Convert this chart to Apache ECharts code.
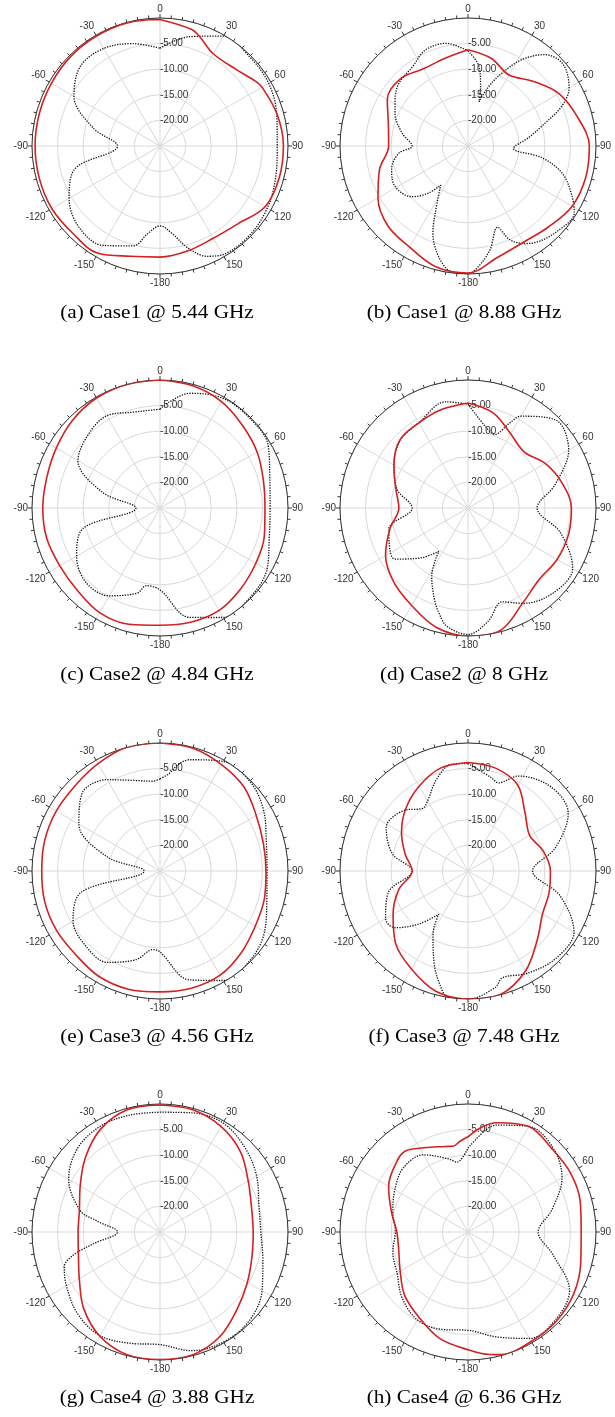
<!DOCTYPE html>
<html>
<head>
<meta charset="utf-8">
<script src="https://cdn.jsdelivr.net/npm/echarts/dist/echarts.min.js"></script>
<style>
  html, body { margin: 0; padding: 0; background: #fff; }
  #chart { width: 615px; height: 1417px; }
</style>
</head>
<body>
<div id="chart"></div>
<script>
// Radiation patterns, normalised gain in dB. Each entry: [angle in degrees, dB].
// Solid red = co-polarisation, dotted black = cross-polarisation.

const captions = [
  '(a) Case1 @ 5.44 GHz', '(b) Case1 @ 8.88 GHz',
  '(c) Case2 @ 4.84 GHz', '(d) Case2 @ 8 GHz',
  '(e) Case3 @ 4.56 GHz', '(f) Case3 @ 7.48 GHz',
  '(g) Case4 @ 3.88 GHz', '(h) Case4 @ 6.36 GHz'
];

const radialMin = -25;
const radialMax = 0;
const radialStep = 5;
const angleStep = 30;

const case1Low_co = [[0,-0.3],[15,-1.4],[20,-2.3],[30,-4.2],[45,-3.9],[55,-2.6],[60,-2.0],[75,-1.3],[90,-0.9],[105,-0.9],[120,-1.3],[135,-3.5],[150,-4.2],[165,-3.8],[180,-3.3],[-165,-2.7],[-150,-0.8],[-135,-0.9],[-120,-0.6],[-105,-0.6],[-90,-0.6],[-75,-0.6],[-60,-0.5],[-45,-0.3],[-30,-0.2],[-15,-0.1]];
const case1Low_x = [[0,-5.9],[15,-2.9],[30,-0.2],[45,-0.3],[60,-0.5],[75,-1.4],[90,-2.1],[105,-1.6],[120,-0.8],[135,-0.3],[150,-0.5],[157,-1.6],[165,-4.5],[172,-7.7],[180,-9.4],[-172,-7.7],[-165,-4.8],[-150,-2.6],[-135,-2.6],[-120,-4.5],[-105,-7.8],[-90,-16.7],[-75,-11.5],[-60,-5.6],[-45,-3.0],[-30,-3.0],[-15,-4.3]];

const case1High_co = [[0,-6.2],[15,-7.3],[30,-9.0],[45,-7.1],[60,-4.5],[75,-2.9],[90,-1.3],[105,-1.2],[120,-1.5],[135,-2.7],[150,-3.3],[165,-2.5],[180,-0.2],[-165,-0.6],[-150,-2.2],[-135,-2.9],[-120,-4.7],[-105,-7.1],[-90,-9.5],[-75,-8.9],[-60,-6.8],[-45,-6.4],[-30,-7.6],[-15,-7.3]];
const case1High_x = [[0,-6.4],[8,-9.4],[12,-13.2],[14,-16.1],[19,-12.8],[25,-9.3],[32,-5.1],[40,-1.7],[49,-0.5],[60,-2.2],[67,-5.1],[75,-10.1],[82,-13.0],[93,-16.1],[99,-10.4],[106,-5.9],[115,-2.7],[122,-0.5],[135,-1.0],[145,-2.0],[150,-3.0],[156,-5.0],[160,-8.1],[168,-4.3],[175,-1.4],[180,-0.1],[-172,-0.3],[-165,-2.7],[-158,-6.7],[-154,-10.4],[-145,-15.7],[-140,-13.0],[-132,-10.2],[-119,-8.7],[-107,-9.4],[-96,-11.4],[-90,-14.1],[-79,-11.9],[-66,-9.4],[-58,-8.2],[-48,-6.8],[-35,-6.1],[-24,-4.5],[-12,-4.5],[-3,-5.9]];

const case2Low_co = [[0,0],[15,-0.3],[30,-1.0],[45,-2.2],[60,-3.1],[75,-4.1],[90,-4.5],[105,-3.9],[120,-3.4],[135,-2.7],[150,-1.9],[165,-1.9],[180,-2.1],[-165,-1.5],[-150,-1.4],[-135,-2.2],[-120,-2.4],[-105,-2.1],[-90,-2.1],[-75,-2.1],[-60,-1.6],[-45,-0.8],[-30,-0.2],[-15,0]];
const case2Low_x = [[0,-5.7],[5,-4.2],[15,-1.8],[30,-0.3],[45,-0.2],[60,-0.6],[75,-2.8],[90,-3.5],[105,-2.9],[120,-0.9],[135,-0.2],[150,-0.3],[165,-2.9],[180,-9.0],[-170,-9.6],[-165,-7.8],[-150,-5.2],[-135,-4.5],[-120,-6.2],[-105,-9.4],[-90,-20.3],[-75,-13.5],[-60,-6.5],[-45,-5.0],[-30,-4.2],[-15,-5.6],[-5,-5.8]];

const case2High_co = [[0,-4.5],[15,-5.8],[30,-8.3],[45,-9.5],[60,-7.6],[75,-6.0],[90,-4.8],[105,-4.7],[120,-4.9],[135,-5.3],[150,-3.6],[165,-0.3],[180,0],[-165,-0.9],[-150,-3.0],[-135,-4.5],[-120,-6.4],[-105,-9.2],[-90,-11.5],[-75,-10.4],[-60,-8.3],[-45,-6.2],[-30,-5.8],[-15,-5.1]];
const case2High_x = [[0,-4.7],[12,-8.7],[20,-9.7],[26,-6.6],[30,-4.3],[45,-0.7],[60,-2.3],[75,-7.4],[90,-11.5],[105,-6.3],[120,-1.4],[135,-1.5],[150,-3.5],[160,-5.5],[170,-2.5],[180,-0.3],[-170,-1.5],[-165,-3.5],[-160,-5.9],[-152,-9.9],[-146,-14.8],[-137,-11.7],[-125,-7.6],[-120,-7.5],[-105,-9.0],[-90,-14.1],[-75,-10.6],[-60,-8.3],[-45,-6.3],[-30,-5.8],[-12,-3.8]];

const case3Low_co = [[0,0],[15,-0.2],[30,-1.0],[45,-1.8],[60,-3.3],[75,-4.1],[90,-4.3],[105,-3.9],[120,-3.5],[135,-2.5],[150,-1.5],[165,-1.3],[180,-1.4],[-165,-1.1],[-150,-1.2],[-135,-1.8],[-120,-1.7],[-105,-1.7],[-90,-1.9],[-75,-1.7],[-60,-1.6],[-45,-1.5],[-30,-0.8],[-15,0]];
const case3Low_x = [[0,-7.0],[5,-6.0],[10,-3.8],[15,-2.5],[30,-0.3],[45,-0.2],[60,-1.6],[75,-3.5],[90,-4.1],[105,-3.4],[120,-1.4],[135,-0.2],[150,-0.3],[165,-3.0],[180,-9.2],[-175,-9.6],[-165,-7.1],[-150,-4.4],[-135,-4.4],[-120,-5.4],[-105,-9.1],[-90,-21.9],[-75,-14.3],[-60,-6.7],[-45,-3.5],[-30,-4.4],[-15,-6.7],[-5,-7.4]];

const case3High_co = [[0,-3.8],[15,-4.2],[30,-5.6],[45,-9.2],[60,-11.1],[75,-9.8],[90,-8.9],[105,-8.6],[120,-8.2],[135,-5.9],[150,-2.5],[165,-0.1],[180,0],[-165,-0.7],[-150,-2.9],[-135,-5.0],[-120,-8.1],[-105,-11.0],[-90,-14.1],[-75,-12.3],[-60,-10.0],[-45,-7.8],[-30,-5.9],[-15,-4.2]];
const case3High_x = [[0,-4.0],[14,-6.2],[19,-6.8],[28,-4.0],[45,-1.9],[60,-2.4],[75,-7.3],[90,-12.4],[105,-6.4],[120,-1.1],[135,-0.8],[150,-1.9],[162,-3.1],[167,-1.6],[180,0],[-171,0],[-166,-2.2],[-160,-5.7],[-151,-10.9],[-146,-14.8],[-137,-10.8],[-128,-7.0],[-120,-6.4],[-105,-8.9],[-90,-14.1],[-77,-9.8],[-62,-6.9],[-46,-7.9],[-36,-9.9],[-30,-9.2],[-19,-6.1],[-9,-3.9]];

const case4Low_co = [[0,-0.2],[15,-0.3],[30,-1.2],[45,-2.8],[60,-5.1],[75,-6.5],[90,-6.8],[105,-6.4],[120,-5.3],[135,-3.7],[150,-1.5],[165,-0.2],[180,-0.1],[-165,-0.2],[-150,-1.5],[-135,-3.9],[-120,-6.8],[-105,-8.5],[-90,-9.0],[-75,-8.7],[-60,-7.0],[-45,-4.4],[-30,-1.8],[-15,-0.3]];
const case4Low_x = [[0,-1.6],[15,-0.9],[30,-0.4],[45,-1.6],[60,-3.2],[75,-5.0],[90,-5.3],[105,-4.2],[120,-2.0],[135,-0.4],[150,-0.2],[165,-1.0],[180,-3.0],[-165,-2.5],[-150,-1.6],[-135,-2.3],[-120,-3.9],[-110,-5.1],[-105,-7.4],[-100,-11.8],[-90,-16.7],[-80,-12.4],[-75,-8.9],[-60,-4.4],[-45,-2.1],[-30,-1.3],[-15,-1.4]];

const case4High_co = [[0,-6.4],[8,-4.2],[15,-2.9],[30,-1.2],[45,-1.9],[60,-1.9],[75,-2.3],[90,-2.9],[105,-2.2],[120,-1.1],[135,-0.5],[150,-0.3],[165,-0.2],[170,-0.7],[180,-2.0],[-165,-3.5],[-150,-5.8],[-135,-7.5],[-120,-9.7],[-105,-11.0],[-90,-11.1],[-75,-9.5],[-60,-7.1],[-45,-5.4],[-38,-5.0],[-30,-6.1],[-15,-7.7],[-10,-8.0],[-5,-7.2]];
const case4High_x = [[0,-8.6],[10,-4.7],[15,-3.4],[30,-1.2],[45,-1.6],[60,-3.8],[75,-8.0],[90,-11.3],[105,-7.8],[120,-2.1],[135,-0.8],[150,-1.0],[165,-3.8],[180,-5.8],[-165,-5.3],[-150,-5.2],[-135,-6.8],[-120,-9.0],[-105,-9.8],[-90,-10.8],[-75,-9.8],[-60,-8.5],[-45,-7.2],[-30,-7.6],[-15,-10.2],[-9,-11.2]];

const coPol = [case1Low_co, case1High_co, case2Low_co, case2High_co, case3Low_co, case3High_co, case4Low_co, case4High_co];
const xPol  = [case1Low_x,  case1High_x,  case2Low_x,  case2High_x,  case3Low_x,  case3High_x,  case4Low_x,  case4High_x];

// panel layout (pixels)
const colX = [160, 468];
const rowY = [146, 508, 871, 1232];
const plotRadius = 128;
const captionX = [157, 464];
const captionY = [313, 675, 1037, 1398];

// angle on the axis runs 0..360 clockwise from the top; labels show -180..150
function toAxisAngle(a) { return ((a % 360) + 360) % 360; }
function toSeries(pairs) {
  const pts = pairs.map(([a, db]) => [db, toAxisAngle(a)]).sort((p, q) => p[1] - q[1]);
  pts.push([pts[0][0], pts[0][1] + 360]);
  return pts;
}
function angleLabel(v) {
  if (v >= 360) return '';
  return String(v >= 180 ? v - 360 : v);
}

const polar = [], angleAxis = [], radiusAxis = [], series = [], graphic = [];
const axisColor = '#333';
const gridColor = '#d9d9d9';

for (let i = 0; i < 8; i++) {
  const cx = colX[i % 2], cy = rowY[Math.floor(i / 2)];
  polar.push({ center: [cx, cy], radius: plotRadius });
  angleAxis.push({
    polarIndex: i, type: 'value', min: 0, max: 360, interval: angleStep,
    startAngle: 90, clockwise: true,
    axisLine: { show: true, lineStyle: { color: axisColor, width: 1 } },
    axisTick: { show: true, length: 4, lineStyle: { color: axisColor, width: 1 } },
    minorTick: { show: true, splitNumber: 6, length: 3, lineStyle: { color: axisColor, width: 1 } },
    axisLabel: { formatter: angleLabel, margin: 4, fontSize: 10, color: axisColor, fontFamily: 'Liberation Sans' },
    splitLine: { show: true, lineStyle: { color: gridColor, width: 1 } }
  });
  radiusAxis.push({
    polarIndex: i, type: 'value', min: radialMin, max: radialMax, interval: radialStep,
    axisLine: { show: false }, axisTick: { show: false },
    axisLabel: {
      formatter: v => (v <= radialMin || v >= radialMax) ? '' : v.toFixed(2),
      align: 'left', margin: 0, verticalAlign: 'middle',
      fontSize: 10, color: axisColor, fontFamily: 'Liberation Sans'
    },
    splitLine: { show: true, lineStyle: { color: gridColor, width: 1 } }
  });
  series.push({
    type: 'line', coordinateSystem: 'polar', polarIndex: i,
    data: toSeries(xPol[i]), showSymbol: false, smooth: 0.35, silent: true,
    lineStyle: { color: '#111', width: 1.3, type: 'dotted' }, z: 3
  });
  series.push({
    type: 'line', coordinateSystem: 'polar', polarIndex: i,
    data: toSeries(coPol[i]), showSymbol: false, smooth: 0.35, silent: true,
    lineStyle: { color: '#d42020', width: 1.6 }, z: 4
  });
  // sub-figure caption, set in a wide serif face
  graphic.push({
    type: 'text', x: captionX[i % 2], y: captionY[Math.floor(i / 2)], scaleX: 1.18,
    style: {
      text: captions[i], font: '18px "Liberation Serif"', fill: '#000',
      align: 'center', verticalAlign: 'middle'
    }
  });
}

const chart = echarts.init(document.getElementById('chart'), null, { renderer: 'canvas' });
chart.setOption({ animation: false, backgroundColor: '#fff', polar, angleAxis, radiusAxis, series, graphic });
</script>
</body>
</html>
